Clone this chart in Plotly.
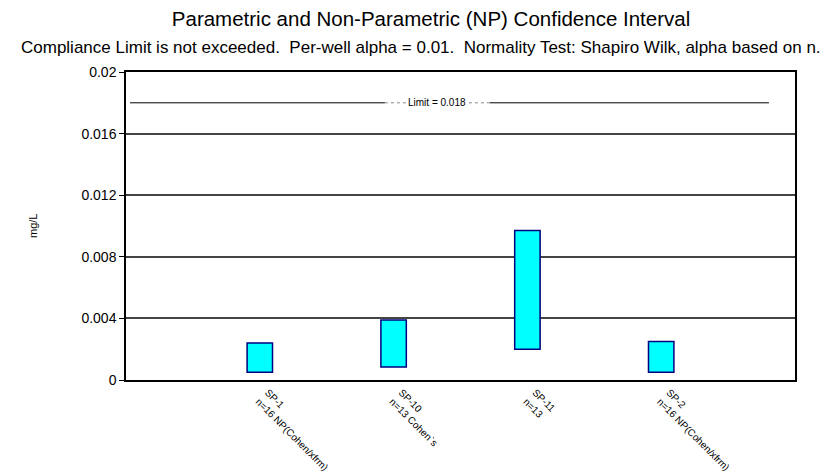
import plotly.graph_objects as go

wells = ["SP-1", "SP-10", "SP-11", "SP-2"]
notes = ["n=16 NP(Cohen/xfrm)", "n=13 Cohen`s", "n=13", "n=16 NP(Cohen/xfrm)"]
lower = [0.0005, 0.00085, 0.0020, 0.0005]
upper = [0.0024, 0.0039, 0.0097, 0.0025]
limit = 0.018
positions = [1, 2, 3, 4]
yticks = [0, 0.004, 0.008, 0.012, 0.016, 0.02]
yticktext = ["0", "0.004", "0.008", "0.012", "0.016", "0.02"]

FONT = "Liberation Sans, Arial, sans-serif"

fig = go.Figure()
fig.add_trace(go.Bar(
    x=positions,
    y=[u - l for u, l in zip(upper, lower)],
    base=lower,
    width=0.19,
    marker=dict(color="#00FFFF", line=dict(color="#000080", width=1.5)),
    showlegend=False,
    hoverinfo="skip",
))

# limit line (solid with dotted section around the label)
fig.add_shape(type="line", xref="paper", yref="y", x0=0.006, x1=0.387, y0=limit, y1=limit,
              line=dict(color="black", width=1))
fig.add_shape(type="line", xref="paper", yref="y", x0=0.387, x1=0.544, y0=limit, y1=limit,
              line=dict(color="#888888", width=1, dash="dot"))
fig.add_shape(type="line", xref="paper", yref="y", x0=0.544, x1=0.961, y0=limit, y1=limit,
              line=dict(color="black", width=1))
fig.add_annotation(x=0.465, xref="paper", y=limit, yref="y", text=f"Limit = {limit}",
                   showarrow=False, font=dict(size=10, color="black", family=FONT),
                   bgcolor="white", borderpad=0)

fig.update_layout(
    width=823, height=467,
    margin=dict(l=118, r=36, t=64, b=95, autoexpand=False),
    paper_bgcolor="white", plot_bgcolor="white",
    font=dict(family=FONT, color="black"),
    title=dict(text="Parametric and Non-Parametric (NP) Confidence Interval",
               x=0.514, xanchor="center", xref="container",
               y=0.976, yanchor="middle", yref="container",
               font=dict(size=20.5)),
    showlegend=False,
)
fig.add_annotation(text="Compliance Limit is not exceeded.  Per-well alpha = 0.01.  Normality Test: Shapiro Wilk, alpha based on n.",
                   xref="paper", yref="paper", x=0.441, y=1.081, xanchor="center", yanchor="middle",
                   showarrow=False, font=dict(size=17, family=FONT))
fig.add_annotation(text="mg/L", xref="paper", yref="paper", x=-0.139, y=0.5, textangle=-90,
                   xanchor="center", yanchor="middle",
                   showarrow=False, font=dict(size=11, family=FONT))

fig.update_xaxes(range=[0, 5], tickvals=positions,
                 ticktext=[f"{w}<br>{n}" for w, n in zip(wells, notes)],
                 tickangle=45, tickfont=dict(size=10), ticks="", automargin=False,
                 ticklabelshift=8, ticklabelstandoff=1,
                 showgrid=False, showline=True, linecolor="black", linewidth=1.5,
                 mirror=True, zeroline=False)
fig.update_yaxes(range=[0, 0.02], tickvals=yticks, ticktext=yticktext, automargin=False,
                 tickfont=dict(size=14), ticks="outside", ticklen=5, tickcolor="black",
                 showgrid=True, gridcolor="#444444", gridwidth=1.5,
                 showline=True, linecolor="black", linewidth=1.5, mirror=True,
                 zeroline=False)

fig.write_html("out.html")
